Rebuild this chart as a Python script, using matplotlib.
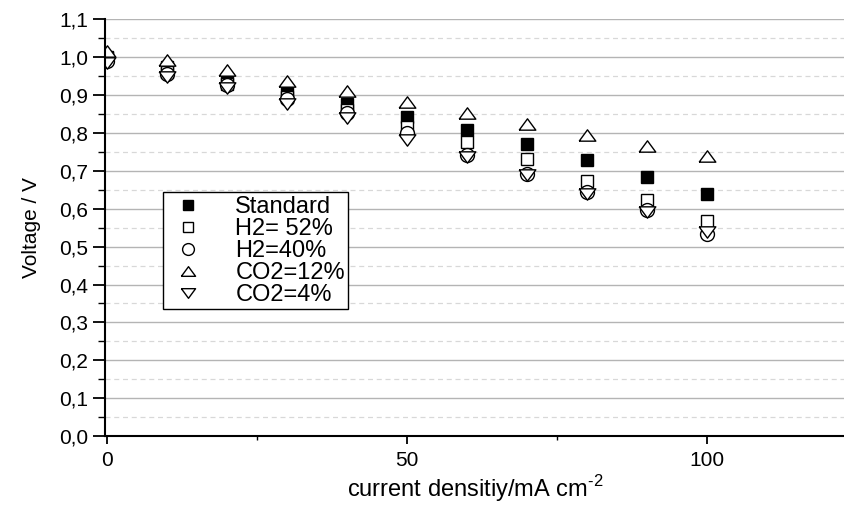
"""Polarisation curves: cell voltage vs current density for several gas mixes."""

import matplotlib

matplotlib.use("Agg")
import matplotlib.pyplot as plt
from matplotlib.ticker import FuncFormatter, MultipleLocator


CURRENT_DENSITY = [0, 10, 20, 30, 40, 50, 60, 70, 80, 90, 100]

STANDARD = [1.000, 0.974, 0.942, 0.908, 0.876, 0.842, 0.808, 0.770, 0.728, 0.684, 0.639]
H2_52 = [0.998, 0.962, 0.930, 0.895, 0.860, 0.816, 0.776, 0.731, 0.674, 0.623, 0.568]
H2_40 = [0.990, 0.955, 0.926, 0.889, 0.852, 0.800, 0.742, 0.693, 0.645, 0.596, 0.533]
CO2_12 = [1.018, 0.992, 0.966, 0.937, 0.911, 0.882, 0.854, 0.825, 0.796, 0.767, 0.739]
CO2_4 = [0.984, 0.947, 0.920, 0.878, 0.839, 0.781, 0.737, 0.689, 0.638, 0.592, 0.539]

SERIES_LABELS = ["Standard", "H2= 52%", "H2=40%", "CO2=12%", "CO2=4%"]

UP_TRIANGLE = [(-1, -0.68), (1, -0.68), (0, 0.68), (-1, -0.68)]
DOWN_TRIANGLE = [(-1, 0.68), (1, 0.68), (0, -0.68), (-1, 0.68)]


def comma_format(value, _pos):
    return f"{value:.1f}".replace(".", ",")


def main() -> None:
    plt.rcParams["font.family"] = ["Liberation Sans", "DejaVu Sans"]
    plt.rcParams["mathtext.fontset"] = "custom"
    plt.rcParams["mathtext.rm"] = "Liberation Sans"

    fig = plt.figure(figsize=(8.45, 5.08), dpi=100)
    ax = fig.add_axes([0.124, 0.1417, 0.876, 0.82])

    series = [STANDARD, H2_52, H2_40, CO2_12, CO2_4]
    styles = [
        dict(marker="s", markersize=9, markerfacecolor="black"),
        dict(marker="s", markersize=8.5, markerfacecolor="white"),
        dict(marker="o", markersize=10, markerfacecolor="white"),
        dict(marker=UP_TRIANGLE, markersize=12, markerfacecolor="white"),
        dict(marker=DOWN_TRIANGLE, markersize=12, markerfacecolor="white"),
    ]

    for values, label, style in zip(series, SERIES_LABELS, styles):
        ax.plot(
            CURRENT_DENSITY,
            values,
            linestyle="none",
            markeredgecolor="black",
            markeredgewidth=1.0,
            label=label,
            **style,
        )

    ax.set_xlim(-0.33, 123)
    ax.set_ylim(0, 1.1)

    ax.xaxis.set_major_locator(MultipleLocator(50))
    ax.xaxis.set_minor_locator(MultipleLocator(25))
    ax.yaxis.set_major_locator(MultipleLocator(0.1))
    ax.yaxis.set_minor_locator(MultipleLocator(0.05))
    ax.yaxis.set_major_formatter(FuncFormatter(comma_format))

    ax.grid(True, which="major", axis="y", color="#b4b4b4", linewidth=1.0)
    ax.grid(True, which="minor", axis="y", color="#d8d8d8", linewidth=0.9, linestyle=(0, (4, 3)))
    ax.set_axisbelow(True)

    for side in ["top", "right"]:
        ax.spines[side].set_visible(False)
    for side in ["left", "bottom"]:
        ax.spines[side].set_linewidth(1.5)

    ax.tick_params(which="both", direction="out", labelsize=15)
    ax.tick_params(axis="y", which="major", length=9, width=1.3, pad=3)
    ax.tick_params(axis="y", which="minor", length=5, width=1.0)
    ax.tick_params(axis="x", which="major", length=6, width=1.3, pad=5)
    ax.tick_params(axis="x", which="minor", length=3, width=1.0)

    ax.set_xlabel("current densitiy/mA cm$^{\\mathregular{\u2010}2}$", fontsize=17, labelpad=2)
    ax.set_ylabel("Voltage / V", fontsize=15, labelpad=13)

    legend = ax.legend(
        loc="upper left",
        bbox_to_anchor=(0.079, 0.585),
        fontsize=17,
        frameon=True,
        fancybox=False,
        edgecolor="black",
        borderpad=0.15,
        labelspacing=0.0,
        handletextpad=1.1,
        borderaxespad=0,
        handlelength=1.8,
        markerscale=0.85,
    )
    legend.get_frame().set_linewidth(1.0)
    legend.get_frame().set_alpha(1)

    fig.savefig("out.png", dpi=100)
    plt.close(fig)


if __name__ == "__main__":
    main()
